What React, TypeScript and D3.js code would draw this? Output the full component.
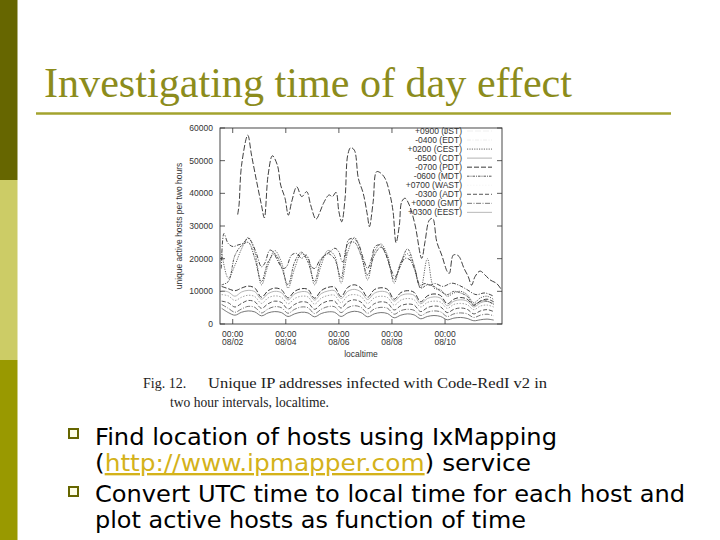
import React from "react";
import * as d3 from "d3";

// ---------- data (hours relative to 08/02 00:00 localtime) ----------
const JST_T = [4.5, 5.7, 8, 13.6, 17, 21.7, 26, 28.6, 32, 35.9, 40.4, 43.4, 47.3, 50.3, 53.3, 57.9, 62.4, 66.9, 70.5, 75.3, 79.6, 82, 87.1, 90.1, 93.4, 96, 98.6, 101.6, 104, 106.7, 110, 113.6, 118, 121.8, 123.6, 127, 130, 133, 137.7, 142.3, 145, 147.7, 150.7, 152.8, 155.8, 159.7, 164.9, 170.9, 173.9, 177.8, 180.8, 184.5, 189, 194.1, 195.9, 199.5, 204, 209.2, 213, 216, 219.1, 223.6, 228.2, 232.7, 238.7, 243.2];
const JST_V = [33500, 36400, 48600, 57800, 51700, 43500, 36400, 32500, 45600, 51500, 48600, 42500, 38500, 33300, 37400, 42000, 39000, 40500, 36400, 32100, 34900, 36900, 39500, 39000, 40300, 34400, 31300, 38500, 51700, 54000, 53200, 44600, 40000, 33300, 29800, 37400, 46600, 46400, 44600, 39500, 34400, 24900, 30300, 37400, 38500, 36400, 30300, 20100, 25200, 31800, 32300, 25200, 21100, 16000, 15500, 21100, 20900, 17000, 14500, 11900, 14500, 16200, 15000, 13500, 12400, 10400];

const EDT_T = [-10.3, -7.9, -4.2, 0.3, 4.8, 9.4, 13.9, 16.9, 21.4, 26, 29, 33.5, 36.5, 41, 45.6, 48.6, 53.2, 57.7, 62.2, 66.7, 71.3, 74.3, 78.8, 83.4, 87.9, 92.4, 96, 99, 101.5, 104.5, 109, 113.5, 118, 122, 125.6, 128.7, 133.2, 137.7, 142.2, 146.8, 151.3, 155.8, 160.4, 164.9, 169.4, 173.9, 178.5, 183, 190, 198, 205, 212, 220, 228, 236];
const EDT_V = [17000, 27700, 24700, 23700, 24200, 24700, 26200, 25200, 21600, 17500, 18600, 22600, 22100, 19100, 17000, 17500, 21100, 21600, 20100, 21100, 17500, 17000, 19600, 21100, 22100, 23200, 22100, 19100, 20100, 25700, 26200, 24700, 20100, 17000, 20100, 23700, 24200, 22100, 17500, 14500, 17500, 20100, 19600, 16500, 11900, 12400, 11900, 12400, 11500, 12500, 11800, 10500, 9000, 9500, 8500];

const GRID_T = [-10, -4, 2, 8, 14, 20, 26, 32, 38, 44, 50, 56, 62, 68, 74, 80, 86, 92, 98, 104, 110, 116, 122, 128, 134, 140, 146, 152, 158, 164, 170, 176, 182, 188, 194, 200, 206, 212, 218, 224, 230, 236];

const CEST_V = [22000, 14000, 18000, 23000, 26500, 22000, 12000, 18000, 22500, 19000, 11000, 17000, 21500, 20000, 12000, 18000, 22500, 21000, 12500, 22000, 26500, 22000, 13500, 22000, 24500, 21000, 12500, 19000, 21500, 17000, 11000, 20000, 11000, 10500, 8500, 9500, 10000, 9000, 6500, 8000, 8500, 7500];
const MDT_V = [12000, 13000, 21000, 24000, 25000, 20000, 13000, 19000, 21500, 17500, 12000, 19000, 22000, 19000, 13000, 19500, 21500, 20000, 14000, 24500, 25000, 21000, 15000, 21000, 23500, 20000, 13500, 18500, 23000, 18000, 11000, 12000, 11500, 10000, 9000, 10000, 9500, 8500, 6000, 7000, 7000, 6000];
const PDT_V = [11500, 10800, 10200, 11000, 11600, 11000, 8200, 10200, 11000, 10500, 8000, 10000, 10800, 10600, 7900, 10200, 11200, 11300, 8400, 11200, 12000, 11000, 8200, 10500, 11100, 10600, 7600, 9600, 10200, 9700, 6800, 8600, 9200, 8700, 6200, 7600, 8100, 7600, 5700, 7000, 7600, 6800];
const CDT_V = [10200, 9800, 8500, 9800, 10300, 9900, 7600, 9300, 10000, 9600, 7400, 9200, 9900, 9700, 7300, 9300, 10100, 10200, 7800, 10000, 10600, 9800, 7500, 9400, 10000, 9600, 7000, 8700, 9200, 8800, 6200, 7800, 8300, 7900, 5600, 7000, 7400, 7000, 5200, 6500, 6900, 6200];
const WAST_V = [9000, 8600, 7200, 8200, 8800, 8400, 6300, 8000, 8600, 8200, 6200, 7800, 8500, 8300, 6100, 7900, 8700, 8800, 6500, 8600, 9000, 8400, 6300, 8000, 8500, 8100, 5800, 7300, 7800, 7400, 5200, 6600, 7000, 6700, 4800, 6000, 6300, 5900, 4400, 5500, 5800, 5200];
const ADT_V = [7000, 6500, 5200, 6300, 7200, 6800, 4800, 6200, 7000, 6600, 4600, 6000, 6800, 6500, 4500, 6100, 7000, 7000, 4900, 6800, 7400, 6700, 4700, 6200, 6800, 6400, 4300, 5600, 6100, 5800, 3800, 5000, 5500, 5200, 3500, 4500, 4900, 4500, 3100, 4000, 4400, 3800];
const GMT_V = [6000, 4800, 3600, 4600, 5400, 5100, 3400, 4600, 5300, 5000, 3300, 4500, 5200, 5000, 3200, 4500, 5300, 5300, 3500, 5000, 5600, 5100, 3300, 4600, 5100, 4800, 3000, 4100, 4500, 4200, 2600, 3600, 4000, 3700, 2300, 3100, 3400, 3100, 2000, 2700, 3000, 2500];
const EEST_V = [4800, 3500, 2700, 3600, 4000, 3700, 2500, 3400, 3800, 3500, 2300, 3100, 3600, 3400, 2200, 3200, 3700, 3600, 2300, 3400, 3900, 3500, 2200, 3100, 3500, 3200, 1900, 2700, 3100, 2800, 1600, 2300, 2600, 2300, 1300, 1800, 2000, 1700, 1000, 1300, 1500, 1200];

const SERIES_NAMES = ["+0900 (JST)", "-0400 (EDT)", "+0200 (CEST)", "-0500 (CDT)", "-0700 (PDT)", "-0600 (MDT)", "+0700 (WAST)", "-0300 (ADT)", "+0000 (GMT)", "+0300 (EEST)"];
const SERIES_T = [JST_T, EDT_T, GRID_T, GRID_T, GRID_T, GRID_T, GRID_T, GRID_T, GRID_T, GRID_T];
const SERIES_V = [JST_V, EDT_V, CEST_V, CDT_V, PDT_V, MDT_V, WAST_V, ADT_V, GMT_V, EEST_V];

const Y_TICKS = [0, 10000, 20000, 30000, 40000, 50000, 60000];
const X_TICK_HOURS = [0, 48, 96, 144, 192];
const X_TICK_TIMES = ["00:00", "00:00", "00:00", "00:00", "00:00"];
const X_TICK_DATES = ["08/02", "08/04", "08/06", "08/08", "08/10"];

// ---------- styles ----------
const STYLES = [
  { color: "#2a2a2a", dash: "6,2", sample: 0.08 },
  { color: "#333", dash: "4,1.5,1,1.5", sample: 0.08 },
  { color: "#555", dash: "1.2,1.2", sample: 1 },
  { color: "#aaa", dash: "", sample: 1 },
  { color: "#222", dash: "5,2", sample: 1 },
  { color: "#444", dash: "2.5,1,1,1", sample: 1 },
  { color: "#999", dash: "1.5,1.5", sample: 0.08 },
  { color: "#444", dash: "4,2", sample: 1 },
  { color: "#666", dash: "5,1.5,1,1.5", sample: 1 },
  { color: "#666", dash: "", sample: 0.5 },
];

const PL = 220, PR = 502, PT = 128, PB = 324;
const CHART_FONT = "'Liberation Sans', Arial, sans-serif";

export default function App() {
  const x = d3.scaleLinear().domain([-11.5, 243.5]).range([PL, PR]);
  const y = d3.scaleLinear().domain([0, 60000]).range([PB, PT]);
  const line = d3
    .line<[number, number]>()
    .x((d) => x(d[0]))
    .y((d) => y(d[1]))
    .curve(d3.curveCatmullRom.alpha(0.5));

  const legendY0 = 131;
  const legendStep = 9.04;

  return (
    <svg width={720} height={540} style={{ position: "absolute", left: 0, top: 0, background: "#fff" }}>
      <rect x={0} y={0} width={720} height={540} fill="#fff" />
      {/* left colour bar */}
      <rect x={0} y={0} width={17.5} height={180} fill="#666600" />
      <rect x={0} y={180} width={17.5} height={180} fill="#cccc66" />
      <rect x={0} y={360} width={17.5} height={180} fill="#999900" />

      {/* title */}
      <text x={44} y={97} fontFamily="'Liberation Serif', 'Times New Roman', serif" fontSize={42} fill="#8c8c1c" textLength={528} lengthAdjust="spacingAndGlyphs">
        Investigating time of day effect
      </text>
      <line x1={36} x2={671} y1={113.5} y2={113.5} stroke="#a3a32e" strokeWidth={2.5} />

      {/* chart */}
      <defs>
        <clipPath id="plotclip">
          <rect x={PL} y={PT} width={PR - PL} height={PB - PT} />
        </clipPath>
      </defs>
      <g fontFamily={CHART_FONT} fontSize={8.5} fill="#333">
        {Y_TICKS.map((v) => (
          <g key={"y" + v}>
            <line x1={PL} x2={PL + 5} y1={y(v)} y2={y(v)} stroke="#333" strokeWidth={0.8} />
            <line x1={PR - 5} x2={PR} y1={y(v)} y2={y(v)} stroke="#333" strokeWidth={0.8} />
            <text x={213} y={y(v) + 3} textAnchor="end">{v}</text>
          </g>
        ))}
        {X_TICK_HOURS.map((h, i) => (
          <g key={"x" + h}>
            <line x1={x(h)} x2={x(h)} y1={PB} y2={PB - 5} stroke="#333" strokeWidth={0.8} />
            <line x1={x(h)} x2={x(h)} y1={PT} y2={PT + 5} stroke="#333" strokeWidth={0.8} />
            <text x={x(h)} y={336.5} textAnchor="middle">{X_TICK_TIMES[i]}</text>
            <text x={x(h)} y={345} textAnchor="middle">{X_TICK_DATES[i]}</text>
          </g>
        ))}
        <text x={(PL + PR) / 2} y={357} textAnchor="middle">localtime</text>
        <text transform={`translate(182,${(PT + PB) / 2}) rotate(-90)`} textAnchor="middle">
          unique active hosts per two hours
        </text>

        <g clipPath="url(#plotclip)">
          {SERIES_NAMES.map((name, i) => {
            const pts: [number, number][] = SERIES_T[i].map((t, k) => [t, SERIES_V[i][k]]);
            const st = STYLES[i];
            return (
              <path
                key={name}
                d={line(pts) || ""}
                fill="none"
                stroke={st.color}
                strokeWidth={0.9}
                strokeDasharray={st.dash || undefined}
              />
            );
          })}
        </g>

        {SERIES_NAMES.map((name, i) => {
          const cy = legendY0 + i * legendStep;
          const st = STYLES[i];
          return (
            <g key={"lg" + name}>
              <text x={462} y={cy + 3} textAnchor="end">{name}</text>
              <line x1={467} x2={492} y1={cy} y2={cy} stroke={st.color} strokeWidth={0.9} strokeDasharray={st.dash || undefined} opacity={st.sample} />
            </g>
          );
        })}

        <rect x={PL} y={PT} width={PR - PL} height={PB - PT} fill="none" stroke="#333" strokeWidth={0.9} />
      </g>

      {/* caption */}
      <g fontFamily="'Liberation Serif', 'Times New Roman', serif" fontSize={14} fill="#222">
        <text x={143} y={388}>Fig. 12.</text>
        <text x={208} y={388} textLength={339} lengthAdjust="spacingAndGlyphs">Unique IP addresses infected with Code-RedI v2 in</text>
        <text x={170} y={407} textLength={159} lengthAdjust="spacingAndGlyphs">two hour intervals, localtime.</text>
      </g>

      {/* bullets */}
      <rect x={69} y={429} width={9} height={9} fill="#ffffe8" stroke="#666600" strokeWidth={2} />
      <rect x={69} y={487} width={9} height={9} fill="#ffffe8" stroke="#666600" strokeWidth={2} />
      <g fontFamily="'DejaVu Sans', Verdana, sans-serif" fontSize={23.5} fill="#000">
        <text x={95} y={445} textLength={462} lengthAdjust="spacingAndGlyphs">Find location of hosts using IxMapping</text>
        <text x={95} y={471} textLength={436} lengthAdjust="spacingAndGlyphs">
          (<tspan fill="#d4b21a" textDecoration="underline">http://www.ipmapper.com</tspan>) service
        </text>
        <text x={95} y={502} textLength={590} lengthAdjust="spacingAndGlyphs">Convert UTC time to local time for each host and</text>
        <text x={95} y={528} textLength={431} lengthAdjust="spacingAndGlyphs">plot active hosts as function of time</text>
      </g>
    </svg>
  );
}
